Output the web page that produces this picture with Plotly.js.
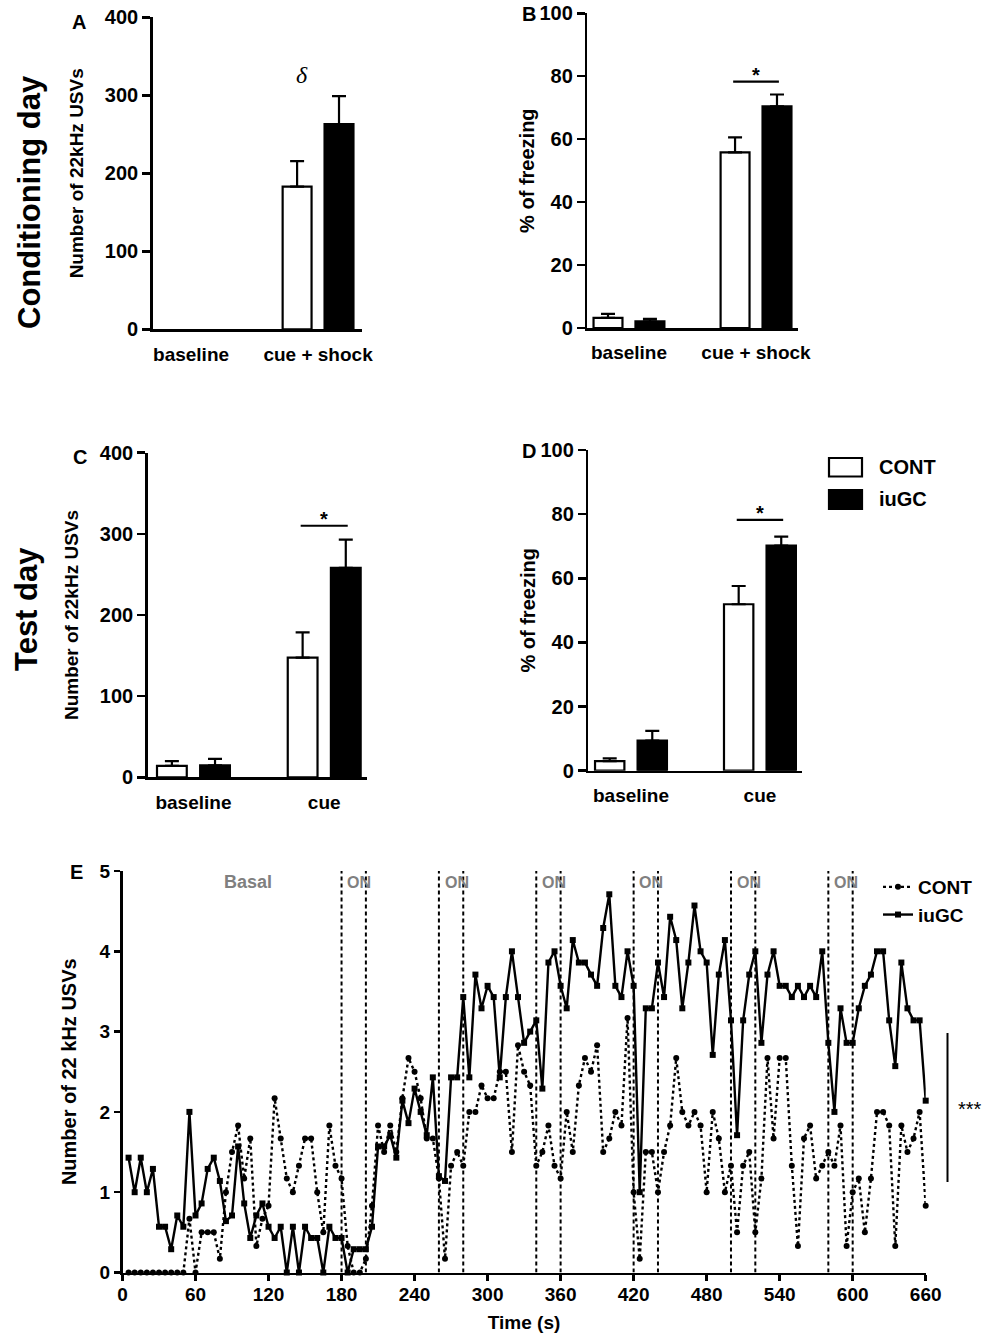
<!DOCTYPE html>
<html>
<head>
<meta charset="utf-8">
<script src="https://cdn.plot.ly/plotly-3.0.1.min.js"></script>
<style>html,body{margin:0;padding:0;background:#fff;}#chart{width:992px;height:1343px;}</style>
</head>
<body>
<div id="chart"></div>
<script>
// ---------------- DATA ----------------
const condCategories = ['baseline', 'cue + shock'];
const testCategories = ['baseline', 'cue'];
const groupNames = ['CONT', 'iuGC'];

// Panel A: Conditioning day, number of 22kHz USVs
const usvCondCONT = [0, 183];
const usvCondCONTsem = [0, 32.5];
const usvCondIUGC = [0, 263];
const usvCondIUGCsem = [0, 36];

// Panel B: Conditioning day, % of freezing
const frzCondCONT = [3.2, 55.8];
const frzCondCONTsem = [1.3, 4.8];
const frzCondIUGC = [2.1, 70.4];
const frzCondIUGCsem = [0.8, 3.8];

// Panel C: Test day, number of 22kHz USVs
const usvTestCONT = [14, 147.5];
const usvTestCONTsem = [6, 31];
const usvTestIUGC = [14.8, 258];
const usvTestIUGCsem = [7.8, 35];

// Panel D: Test day, % of freezing
const frzTestCONT = [3.0, 51.9];
const frzTestCONTsem = [0.85, 5.7];
const frzTestIUGC = [9.4, 70.2];
const frzTestIUGCsem = [3.0, 2.8];

// Panel E: time course of 22 kHz USVs (5 s bins)
const timeSec = [5,10,15,20,25,30,35,40,45,50,55,60,65,70,75,80,85,90,95,100,
  105,110,115,120,125,130,135,140,145,150,155,160,165,170,175,180,185,190,195,200,
  205,210,215,220,225,230,235,240,245,250,255,260,265,270,275,280,285,290,295,300,
  305,310,315,320,325,330,335,340,345,350,355,360,365,370,375,380,385,390,395,400,
  405,410,415,420,425,430,435,440,445,450,455,460,465,470,475,480,485,490,495,500,
  505,510,515,520,525,530,535,540,545,550,555,560,565,570,575,580,585,590,595,600,
  605,610,615,620,625,630,635,640,645,650,655,660];
const usvTimeCONT = [0,0,0,0,0,0,0,0,0,0,
  0.67,0,0.5,0.5,0.5,0.17,1.0,1.5,1.83,1.17,
  1.67,0.33,0.67,0.83,2.17,1.67,1.17,1.0,1.33,1.67,
  1.67,1.0,0.5,1.83,1.33,1.17,0.33,0,0,0.17,
  0.83,1.83,1.5,1.83,1.5,2.17,2.67,2.5,2.17,1.67,
  1.67,1.17,0.17,1.33,1.5,1.33,2.0,2.0,2.33,2.17,
  2.17,2.5,2.5,1.5,2.83,2.5,2.33,1.33,1.5,1.83,
  1.33,1.17,2.0,1.5,2.33,2.67,2.5,2.83,1.5,1.67,
  2.0,1.83,3.17,1.0,0.17,1.5,1.5,1.0,1.5,1.83,
  2.67,2.0,1.83,2.0,1.83,1.0,2.0,1.67,1.0,1.33,
  0.5,1.33,1.5,0.5,1.17,2.67,1.67,2.67,2.67,1.33,
  0.33,1.67,1.83,1.17,1.33,1.5,1.33,1.83,0.33,1.0,
  1.17,0.5,1.17,2.0,2.0,1.83,0.33,1.83,1.5,1.67,
  2.0,0.83];
const usvTimeIUGC = [1.43,1.0,1.43,1.0,1.29,0.57,0.57,0.29,0.71,0.57,
  2.0,0.71,0.86,1.29,1.43,1.14,0.64,0.71,1.57,0.86,
  0.43,0.71,0.86,0.57,0.43,0.57,0,0.57,0,0.57,
  0.43,0.43,0,0.57,0.43,0.43,0,0.29,0.29,0.29,
  0.57,1.57,1.57,1.71,1.43,2.14,1.86,2.29,2.0,1.71,
  2.43,1.2,1.14,2.43,2.43,3.43,2.43,3.71,3.29,3.57,
  3.43,2.43,3.43,4.0,3.43,2.86,3.0,3.14,2.29,3.86,
  4.0,3.57,3.29,4.14,3.86,3.86,3.71,3.57,4.29,4.71,
  3.57,3.43,4.0,3.57,1.0,3.29,3.29,3.86,3.43,4.43,
  4.14,3.29,3.86,4.57,4.0,3.86,2.71,3.71,4.14,3.14,
  1.71,3.14,3.71,4.0,2.86,3.71,4.0,3.57,3.57,3.43,
  3.57,3.43,3.57,3.43,4.0,2.86,2.0,3.29,2.86,2.86,
  3.29,3.57,3.71,4.0,4.0,3.14,2.57,3.86,3.29,3.14,
  3.14,2.14];
const cueOnStarts = [180, 260, 340, 420, 500, 580];
const cueDuration = 20;
const timeTicks = [0,60,120,180,240,300,360,420,480,540,600,660];

// ---------------- HELPERS ----------------
const W = 992, H = 1343;
const px = x => x / W;
const py = y => 1 - y / H;
const FONT = 'Liberation Sans, Arial, Helvetica, sans-serif';
const bold = (size, color) => ({family: FONT, size: size, color: color || '#000', weight: 'bold'});

function barPair(xa, ya, cats, cVal, cSem, gVal, gSem) {
  const mk = (name, vals, sems, fill) => ({
    type: 'bar', name: name, x: cats, y: vals, xaxis: xa, yaxis: ya,
    showlegend: false, cliponaxis: false,
    marker: {color: fill, line: {color: '#000', width: vals.map(v => v > 0 ? 2.2 : 0)}},
    error_y: {type: 'data', symmetric: false,
              array: sems.map(s => s > 0 ? s : NaN),
              arrayminus: sems.map(s => s > 0 ? 0 : NaN),
              color: '#000', thickness: 2.2, width: 7},
    hoverinfo: 'x+y'
  });
  return [mk(groupNames[0], cVal, cSem, '#ffffff'), mk(groupNames[1], gVal, gSem, '#000000')];
}

const traces = [].concat(
  barPair('x', 'y', condCategories, usvCondCONT, usvCondCONTsem, usvCondIUGC, usvCondIUGCsem),
  barPair('x2', 'y2', condCategories, frzCondCONT, frzCondCONTsem, frzCondIUGC, frzCondIUGCsem),
  barPair('x3', 'y3', testCategories, usvTestCONT, usvTestCONTsem, usvTestIUGC, usvTestIUGCsem),
  barPair('x4', 'y4', testCategories, frzTestCONT, frzTestCONTsem, frzTestIUGC, frzTestIUGCsem),
  [
    {type: 'scatter', mode: 'lines+markers', name: groupNames[0], x: timeSec, y: usvTimeCONT,
     xaxis: 'x5', yaxis: 'y5', legend: 'legend2', cliponaxis: false,
     line: {color: '#000', width: 2.4, dash: 'dot'},
     marker: {symbol: 'circle', size: 6, color: '#000'}},
    {type: 'scatter', mode: 'lines+markers', name: groupNames[1], x: timeSec, y: usvTimeIUGC,
     xaxis: 'x5', yaxis: 'y5', legend: 'legend2', cliponaxis: false,
     line: {color: '#000', width: 2.4},
     marker: {symbol: 'square', size: 6, color: '#000'}}
  ]
);

function catAxis(domain, anchor, range) {
  return {domain: domain, anchor: anchor, type: 'category', range: range,
    showline: true, linecolor: '#000', linewidth: 2.5, ticks: '', showgrid: false, zeroline: false,
    tickfont: bold(19), ticklabelstandoff: 6, fixedrange: true};
}
function valAxis(domain, anchor, range, dtick, title, titleSize, standoff) {
  return {domain: domain, anchor: anchor, range: range, dtick: dtick,
    showline: true, linecolor: '#000', linewidth: 2.5, ticks: 'outside', ticklen: 8, tickwidth: 2.5,
    tickcolor: '#000', showgrid: false, zeroline: false, tickfont: bold(20),
    title: {text: title, font: bold(titleSize), standoff: standoff}, fixedrange: true};
}

const shapes = [];
// significance brackets
[['x2', 'y2', 78.3], ['x3', 'y3', 310], ['x4', 'y4', 78.2]].forEach(b => {
  shapes.push({type: 'line', xref: b[0], yref: b[1], x0: 0.82, x1: 1.18, y0: b[2], y1: b[2],
    line: {color: '#000', width: 2.2}});
});
// cue ON windows in panel E
cueOnStarts.forEach(t => {
  [t, t + cueDuration].forEach(tt => {
    shapes.push({type: 'line', xref: 'x5', yref: 'y5', x0: tt, x1: tt, y0: 0, y1: 5,
      line: {color: '#000', width: 2, dash: '4px,3px'}});
  });
});
// E significance bar
shapes.push({type: 'line', xref: 'paper', yref: 'paper', x0: px(947.5), x1: px(947.5), y0: py(1182), y1: py(1033),
  line: {color: '#000', width: 2}});
// bar legend swatches
shapes.push({type: 'rect', xref: 'paper', yref: 'paper', x0: px(829), x1: px(862), y0: py(476.5), y1: py(458),
  line: {color: '#000', width: 2.2}, fillcolor: '#fff'});
shapes.push({type: 'rect', xref: 'paper', yref: 'paper', x0: px(829), x1: px(862), y0: py(509), y1: py(490),
  line: {color: '#000', width: 2.2}, fillcolor: '#000'});

const annotations = [];
const paperText = (x, y, text, font, opts) => Object.assign({xref: 'paper', yref: 'paper', x: px(x), y: py(y),
  text: text, showarrow: false, font: font, xanchor: 'center', yanchor: 'middle'}, opts || {});
annotations.push(paperText(29, 202, 'Conditioning day', bold(31), {textangle: -90}));
annotations.push(paperText(27, 609, 'Test day', bold(31), {textangle: -90}));
annotations.push(paperText(79, 22, 'A', bold(20)));
annotations.push(paperText(529, 14, 'B', bold(20)));
annotations.push(paperText(80, 457, 'C', bold(20)));
annotations.push(paperText(529, 451, 'D', bold(20)));
annotations.push(paperText(76, 872, 'E', bold(20)));
annotations.push(paperText(877, 467, 'CONT', bold(20), {xanchor: 'left'}));
annotations.push(paperText(877, 499.5, 'iuGC', bold(20), {xanchor: 'left'}));
annotations.push(paperText(956, 1109, '***', {family: FONT, size: 20, color: '#000'}, {xanchor: 'left'}));
// delta in panel A
annotations.push({xref: 'x', yref: 'y', x: 0.87, y: 326, text: '<i>δ</i>', showarrow: false,
  font: {family: 'Liberation Serif, Times New Roman, serif', size: 24, color: '#000'}});
// stars
[['x2', 'y2', 78.3], ['x3', 'y3', 310], ['x4', 'y4', 78.2]].forEach(b => {
  annotations.push({xref: b[0], yref: b[1], x: 1, y: b[2], text: '*', showarrow: false, yanchor: 'bottom',
    yshift: -6, font: bold(20)});
});
annotations.push({xref: 'x5', yref: 'y5', x: 103, y: 4.86, text: 'Basal', showarrow: false,
  font: bold(18, '#808080')});
cueOnStarts.forEach(t => {
  annotations.push({xref: 'x5', yref: 'y5', x: t + 3, y: 4.86, text: 'ON', showarrow: false, xanchor: 'left',
    font: bold(16, '#808080')});
});

const layout = {
  width: W, height: H, margin: {l: 0, r: 0, t: 0, b: 0},
  paper_bgcolor: '#fff', plot_bgcolor: 'rgba(0,0,0,0)',
  barmode: 'group', bargap: 0.34, bargroupgap: 0.31,
  showlegend: true,
  font: {family: FONT, color: '#000'},
  xaxis: catAxis([px(152.7), px(362)], 'y', [-0.302, 1.346]),
  yaxis: valAxis([py(329.3), py(17.3)], 'x', [0, 400], 100, 'Number of 22kHz USVs', 19, 16),
  xaxis2: catAxis([px(587.3), px(797.7)], 'y2', [-0.328, 1.328]),
  yaxis2: valAxis([py(328), py(13.3)], 'x2', [0, 100], 20, '% of freezing', 20, 0),
  xaxis3: catAxis([px(147.7), px(366.7)], 'y3', [-0.35, 1.325]),
  yaxis3: valAxis([py(777.3), py(452.7)], 'x3', [0, 400], 100, 'Number of 22kHz USVs', 19, 16),
  xaxis4: catAxis([px(588.3), px(802)], 'y4', [-0.331, 1.326]),
  yaxis4: valAxis([py(770.7), py(450)], 'x4', [0, 100], 20, '% of freezing', 20, 0),
  xaxis5: {domain: [px(122.5), px(925.7)], anchor: 'y5', range: [0, 660], tickvals: timeTicks,
    showline: true, linecolor: '#000', linewidth: 2.5, ticks: 'outside', ticklen: 6, tickwidth: 2.5, tickcolor: '#000',
    showgrid: false, zeroline: false, tickfont: bold(19), ticklabelstandoff: -3,
    title: {text: 'Time (s)', font: bold(19), standoff: 12}, fixedrange: true},
  yaxis5: {domain: [py(1272.5), py(871)], anchor: 'x5', range: [0, 5], dtick: 1,
    showline: true, linecolor: '#000', linewidth: 2.5, ticks: 'outside', ticklen: 6, tickwidth: 2.5, tickcolor: '#000',
    showgrid: false, zeroline: false, tickfont: bold(19),
    title: {text: 'Number of 22 kHz USVs', font: bold(20), standoff: 18}, fixedrange: true},
  legend2: {x: px(878), y: py(868), xanchor: 'left', yanchor: 'top', bgcolor: 'rgba(0,0,0,0)',
    font: bold(19), tracegroupgap: 0, itemwidth: 30},
  shapes: shapes,
  annotations: annotations
};

Plotly.newPlot('chart', traces, layout, {displayModeBar: false, staticPlot: true});
</script>
</body>
</html>
